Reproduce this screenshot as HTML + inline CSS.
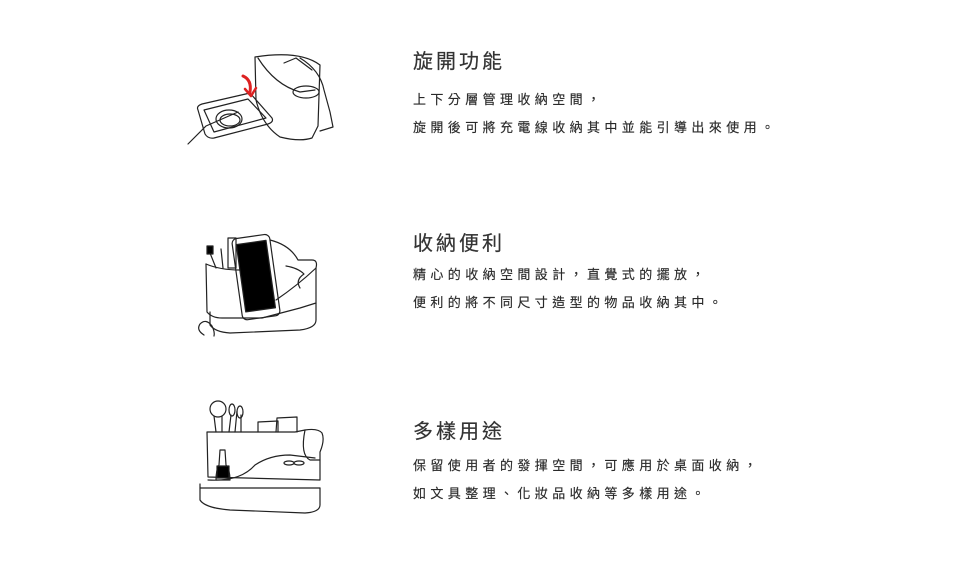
<!DOCTYPE html>
<html><head><meta charset="utf-8"><style>
body{margin:0;width:960px;height:563px;background:#fff;position:relative;overflow:hidden;font-family:"Liberation Sans","Noto Sans CJK TC",sans-serif;color:#333}
.t{position:absolute;left:413px;font-size:20px;letter-spacing:3px;line-height:24px;white-space:nowrap;color:#333;-webkit-text-stroke:0.2px #333}
.b{position:absolute;left:413px;font-size:13px;letter-spacing:4.4px;line-height:18px;white-space:nowrap;color:#2a2a2a;-webkit-text-stroke:0.15px #2a2a2a}
svg{position:absolute;left:0;top:0}
</style></head><body>
<div class="t" style="top:50px">旋開功能</div>
<div class="b" style="top:91px">上下分層管理收納空間，</div>
<div class="b" style="top:119px">旋開後可將充電線收納其中並能引導出來使用。</div>
<div class="t" style="top:232px">收納便利</div>
<div class="b" style="top:266px">精心的收納空間設計，直覺式的擺放，</div>
<div class="b" style="top:294px">便利的將不同尺寸造型的物品收納其中。</div>
<div class="t" style="top:420px">多樣用途</div>
<div class="b" style="top:457px">保留使用者的發揮空間，可應用於桌面收納，</div>
<div class="b" style="top:485px">如文具整理、化妝品收納等多樣用途。</div>
<svg width="960" height="563" fill="none" stroke="#222" stroke-width="1.2" stroke-linejoin="round" stroke-linecap="round">
<!-- illustration 1 -->
<path d="M198 110 Q196 106 202 104 L250 93 L272 118 Q274 122 268 124 L214 138 Q208 139 205 134 Z"/>
<path d="M204 110 L248 99 L266 118 L214 132 Z"/>
<ellipse cx="229" cy="119" rx="13" ry="9"/>
<ellipse cx="230" cy="120" rx="10" ry="6"/>
<path d="M188 144 L206 126 L238 112"/>
<path d="M255 57 L256 100 Q262 125 280 137 Q300 142 312 138 L318 126 L320 65 Q300 50 255 57 Z"/>
<path d="M258 58 Q275 85 300 92 L315 90"/>
<ellipse cx="306" cy="92" rx="13" ry="6"/>
<path d="M300 58 Q320 70 324 90 L330 112 L333 127 L320 131"/>
<path d="M284 63 L296 58 L312 70"/>
<path d="M243 76 Q252 80 250 92" stroke="#d22" stroke-width="3"/>
<path d="M245 89 L251 96 L256 88" stroke="#d22" stroke-width="2.5"/>
<!-- illustration 2 -->
<path d="M206 264 L207 312 Q212 318 222 318 L262 318 L300 308 L316 303 L316 268 Q318 260 312 260 L298 260 Q290 245 270 240"/>
<path d="M206 264 Q220 270 240 270"/>
<path d="M210 312 L210 325 Q215 332 230 333 L300 330 Q316 328 316 320 L316 303"/>
<path d="M276 300 Q298 285 316 268"/>
<path d="M286 266 Q298 268 304 274 Q295 280 300 288"/>
<rect x="237" y="236" width="38" height="82" rx="5" transform="rotate(-8 257 277)"/>
<rect x="241" y="242" width="30" height="68" fill="#000" transform="rotate(-8 257 277)"/>
<path d="M210 253 L216 268 M221 249 L223 268 M228 238 L228 268 L236 268 L236 238 Z"/>
<rect x="207" y="246" width="6" height="8" fill="#000"/>
<path d="M204 335 Q196 330 200 324 Q206 318 212 326 Q215 332 214 336"/>
<!-- illustration 3 -->
<path d="M207 432 L208 477 L320 480 L320 452 Q325 440 322 433 Q318 428 305 430 L295 432 L265 432 L207 432"/>
<path d="M305 430 Q300 455 310 460 L320 460"/>
<path d="M208 480 Q240 482 255 465 Q270 455 290 455 L315 458"/>
<path d="M200 484 L200 500 Q205 508 230 510 L305 513 Q320 512 320 505 L320 488"/>
<path d="M200 488 L320 488"/>
<circle cx="218" cy="409" r="8"/>
<path d="M214 416 L216 432 M222 416 L222 432"/>
<path d="M229 432 L231 415 M235 432 L237 411 M241 432 L241 415"/>
<ellipse cx="232" cy="410" rx="3" ry="6"/><ellipse cx="240" cy="412" rx="3" ry="6"/>
<path d="M258 432 L258 422 L278 421 L278 432 M276 432 L277 418 L297 417 L297 432"/>
<path d="M220 450 L225 450 L226 465 Q230 470 230 480 L216 480 Q216 470 219 465 Z"/>
<rect x="217" y="466" width="12" height="12" fill="#000"/>
<ellipse cx="289" cy="463" rx="5" ry="2"/><ellipse cx="299" cy="463" rx="5" ry="2"/>
</svg>
</body></html>
